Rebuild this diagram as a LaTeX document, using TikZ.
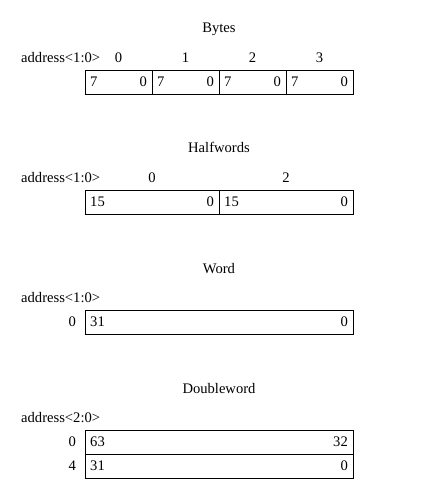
\documentclass[tikz,border=0pt]{standalone}
\usepackage{fontspec}
\setmainfont{Liberation Serif}
\usetikzlibrary{positioning}

\begin{document}
\begin{tikzpicture}[x=1bp, y=-1bp,
    lbl/.style={font=\fontsize{14.6bp}{17bp}\selectfont, inner sep=0pt},
    cell/.style={draw, line width=0.8bp, minimum height=24bp, inner sep=0pt, outer sep=0pt, anchor=north west}]

    \useasboundingbox (0,0) rectangle (436,496);

    % Bytes
    \node[lbl, anchor=base] (bytes) at (219,33) {Bytes};
    \node[lbl, anchor=base west] (baddr) at (21,62.5) {address<1:0>};
    \node[cell, minimum width=67bp] (b0) at (85,70) {};
    \node[cell, minimum width=67bp, right=0pt of b0] (b1) {};
    \node[cell, minimum width=67bp, right=0pt of b1] (b2) {};
    \node[cell, minimum width=67bp, right=0pt of b2] (b3) {};
    \foreach \i in {0,...,3} {
        \node[lbl, anchor=base] (ba\i) at (b\i.center |- baddr.base) {\i};
        \node[lbl, right=5bp of b\i.west] (b\i hi) {7};
        \node[lbl, left=5bp of b\i.east] (b\i lo) {0};
    }

    % Halfwords
    \node[lbl, anchor=base] (halfwords) at (219,153) {Halfwords};
    \node[lbl, anchor=base west] (haddr) at (21,182.5) {address<1:0>};
    \node[cell, minimum width=134bp] (h0) at (85,190) {};
    \node[cell, minimum width=134bp, right=0pt of h0] (h1) {};
    \node[lbl, anchor=base] (ha0) at (h0.center |- haddr.base) {0};
    \node[lbl, anchor=base] (ha2) at (h1.center |- haddr.base) {2};
    \foreach \i in {0,1} {
        \node[lbl, right=5bp of h\i.west] (h\i hi) {15};
        \node[lbl, left=5bp of h\i.east] (h\i lo) {0};
    }

    % Word
    \node[lbl, anchor=base] (word) at (219,273) {Word};
    \node[lbl, anchor=base west] (waddr) at (21,302) {address<1:0>};
    \node[cell, minimum width=268bp] (w0) at (85,310) {};
    \node[lbl, left=9bp of w0.west] (wa0) {0};
    \node[lbl, right=5bp of w0.west] (w0hi) {31};
    \node[lbl, left=5bp of w0.east] (w0lo) {0};

    % Doubleword
    \node[lbl, anchor=base] (dword) at (219,393) {Doubleword};
    \node[lbl, anchor=base west] (daddr) at (21,422) {address<2:0>};
    \node[cell, minimum width=268bp] (d0) at (85,430) {};
    \node[cell, minimum width=268bp, below=0pt of d0] (d1) {};
    \node[lbl, left=9bp of d0.west] (da0) {0};
    \node[lbl, left=9bp of d1.west] (da4) {4};
    \node[lbl, right=5bp of d0.west] (d0hi) {63};
    \node[lbl, left=5bp of d0.east] (d0lo) {32};
    \node[lbl, right=5bp of d1.west] (d1hi) {31};
    \node[lbl, left=5bp of d1.east] (d1lo) {0};
\end{tikzpicture}
\end{document}
